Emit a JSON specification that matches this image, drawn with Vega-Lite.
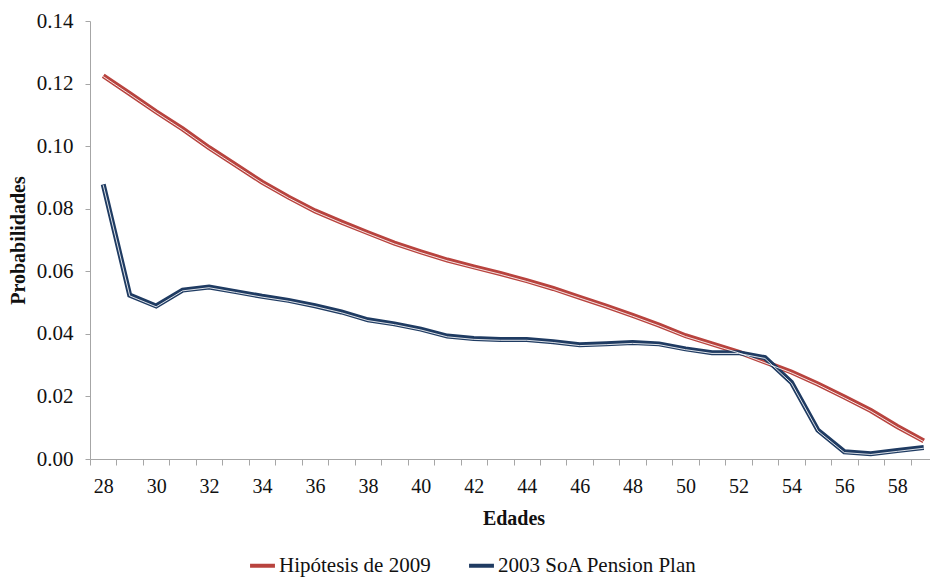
{
  "$schema": "https://vega.github.io/schema/vega-lite/v6.json",
  "autosize": {"type": "none"},
  "width": 847,
  "height": 438,
  "padding": {"left": 90, "top": 21, "right": 0, "bottom": 119},
  "background": "white",
  "config": {
    "view": {"stroke": null},
    "font": "'Liberation Serif', 'Times New Roman', Times, serif",
    "axis": {"labelFont": "'Liberation Serif', 'Times New Roman', Times, serif", "titleFont": "'Liberation Serif', 'Times New Roman', Times, serif", "labelFontSize": 20, "titleFontSize": 20, "labelColor": "#111", "titleColor": "#111", "domainColor": "#a6a6a6", "tickColor": "#a6a6a6", "grid": false},
    "legend": {"labelFont": "'Liberation Serif', 'Times New Roman', Times, serif"}
  },
  "data": {"values": [
    {"edad": 28, "serie": "Hipótesis de 2009", "p": 0.1225},
    {"edad": 29, "serie": "Hipótesis de 2009", "p": 0.1168},
    {"edad": 30, "serie": "Hipótesis de 2009", "p": 0.1110},
    {"edad": 31, "serie": "Hipótesis de 2009", "p": 0.1055},
    {"edad": 32, "serie": "Hipótesis de 2009", "p": 0.0995},
    {"edad": 33, "serie": "Hipótesis de 2009", "p": 0.0940},
    {"edad": 34, "serie": "Hipótesis de 2009", "p": 0.0885},
    {"edad": 35, "serie": "Hipótesis de 2009", "p": 0.0837},
    {"edad": 36, "serie": "Hipótesis de 2009", "p": 0.0793},
    {"edad": 37, "serie": "Hipótesis de 2009", "p": 0.0757},
    {"edad": 38, "serie": "Hipótesis de 2009", "p": 0.0723},
    {"edad": 39, "serie": "Hipótesis de 2009", "p": 0.0690},
    {"edad": 40, "serie": "Hipótesis de 2009", "p": 0.0662},
    {"edad": 41, "serie": "Hipótesis de 2009", "p": 0.0636},
    {"edad": 42, "serie": "Hipótesis de 2009", "p": 0.0614},
    {"edad": 43, "serie": "Hipótesis de 2009", "p": 0.0593},
    {"edad": 44, "serie": "Hipótesis de 2009", "p": 0.0570},
    {"edad": 45, "serie": "Hipótesis de 2009", "p": 0.0545},
    {"edad": 46, "serie": "Hipótesis de 2009", "p": 0.0517},
    {"edad": 47, "serie": "Hipótesis de 2009", "p": 0.0489},
    {"edad": 48, "serie": "Hipótesis de 2009", "p": 0.0459},
    {"edad": 49, "serie": "Hipótesis de 2009", "p": 0.0428},
    {"edad": 50, "serie": "Hipótesis de 2009", "p": 0.0394},
    {"edad": 51, "serie": "Hipótesis de 2009", "p": 0.0368},
    {"edad": 52, "serie": "Hipótesis de 2009", "p": 0.0342},
    {"edad": 53, "serie": "Hipótesis de 2009", "p": 0.0310},
    {"edad": 54, "serie": "Hipótesis de 2009", "p": 0.0278},
    {"edad": 55, "serie": "Hipótesis de 2009", "p": 0.0240},
    {"edad": 56, "serie": "Hipótesis de 2009", "p": 0.0198},
    {"edad": 57, "serie": "Hipótesis de 2009", "p": 0.0155},
    {"edad": 58, "serie": "Hipótesis de 2009", "p": 0.0104},
    {"edad": 59, "serie": "Hipótesis de 2009", "p": 0.0058},
    {"edad": 28, "serie": "2003 SoA Pension Plan", "p": 0.0878},
    {"edad": 29, "serie": "2003 SoA Pension Plan", "p": 0.0524},
    {"edad": 30, "serie": "2003 SoA Pension Plan", "p": 0.0489},
    {"edad": 31, "serie": "2003 SoA Pension Plan", "p": 0.0540},
    {"edad": 32, "serie": "2003 SoA Pension Plan", "p": 0.0550},
    {"edad": 33, "serie": "2003 SoA Pension Plan", "p": 0.0535},
    {"edad": 34, "serie": "2003 SoA Pension Plan", "p": 0.0520},
    {"edad": 35, "serie": "2003 SoA Pension Plan", "p": 0.0507},
    {"edad": 36, "serie": "2003 SoA Pension Plan", "p": 0.0490},
    {"edad": 37, "serie": "2003 SoA Pension Plan", "p": 0.0470},
    {"edad": 38, "serie": "2003 SoA Pension Plan", "p": 0.0445},
    {"edad": 39, "serie": "2003 SoA Pension Plan", "p": 0.0432},
    {"edad": 40, "serie": "2003 SoA Pension Plan", "p": 0.0415},
    {"edad": 41, "serie": "2003 SoA Pension Plan", "p": 0.0393},
    {"edad": 42, "serie": "2003 SoA Pension Plan", "p": 0.0385},
    {"edad": 43, "serie": "2003 SoA Pension Plan", "p": 0.0382},
    {"edad": 44, "serie": "2003 SoA Pension Plan", "p": 0.0382},
    {"edad": 45, "serie": "2003 SoA Pension Plan", "p": 0.0375},
    {"edad": 46, "serie": "2003 SoA Pension Plan", "p": 0.0365},
    {"edad": 47, "serie": "2003 SoA Pension Plan", "p": 0.0368},
    {"edad": 48, "serie": "2003 SoA Pension Plan", "p": 0.0372},
    {"edad": 49, "serie": "2003 SoA Pension Plan", "p": 0.0368},
    {"edad": 50, "serie": "2003 SoA Pension Plan", "p": 0.0352},
    {"edad": 51, "serie": "2003 SoA Pension Plan", "p": 0.0340},
    {"edad": 52, "serie": "2003 SoA Pension Plan", "p": 0.0340},
    {"edad": 53, "serie": "2003 SoA Pension Plan", "p": 0.0324},
    {"edad": 54, "serie": "2003 SoA Pension Plan", "p": 0.0245},
    {"edad": 55, "serie": "2003 SoA Pension Plan", "p": 0.0092},
    {"edad": 56, "serie": "2003 SoA Pension Plan", "p": 0.0023},
    {"edad": 57, "serie": "2003 SoA Pension Plan", "p": 0.0017},
    {"edad": 58, "serie": "2003 SoA Pension Plan", "p": 0.0027},
    {"edad": 59, "serie": "2003 SoA Pension Plan", "p": 0.0037}
  ]},
  "encoding": {
    "x": {
      "field": "edad", "type": "quantitative",
      "scale": {"domain": [27.5, 59.5], "nice": false, "zero": false},
      "axis": {
        "title": "Edades", "titleFontWeight": "bold", "titlePadding": 12,
        "values": [27.5,28,28.5,29.5,30,30.5,31.5,32,32.5,33.5,34,34.5,35.5,36,36.5,37.5,38,38.5,39.5,40,40.5,41.5,42,42.5,43.5,44,44.5,45.5,46,46.5,47.5,48,48.5,49.5,50,50.5,51.5,52,52.5,53.5,54,54.5,55.5,56,56.5,57.5,58,58.5,59.5],
        "labelExpr": "datum.value % 2 == 0 ? datum.value : ''",
        "tickOpacity": {"condition": {"test": "datum.value % 1 != 0", "value": 1}, "value": 0},
        "tickSize": 6, "labelPadding": 11, "labelFlush": false, "labelOverlap": false
      }
    },
    "y": {
      "field": "p", "type": "quantitative",
      "scale": {"domain": [0, 0.14], "nice": false},
      "axis": {"title": "Probabilidades", "titleFontWeight": "bold", "titlePadding": 8, "labelFontSize": 21, "values": [0,0.02,0.04,0.06,0.08,0.1,0.12,0.14], "format": ".2f", "tickSize": 5, "labelPadding": 12}
    }
  },
  "layer": [
    {
      "mark": {"type": "line", "strokeWidth": 5, "strokeJoin": "miter"},
      "encoding": {
        "color": {
          "field": "serie", "type": "nominal",
          "scale": {"domain": ["Hipótesis de 2009", "2003 SoA Pension Plan"], "range": ["#b8433e", "#1f3b62"]},
          "legend": {
            "title": null, "orient": "none", "direction": "horizontal", "legendX": 158, "legendY": 530,
            "symbolType": "stroke", "symbolSize": 620, "symbolStrokeWidth": 4,
            "labelFontSize": 21, "labelColor": "#111", "labelLimit": 400,
            "columnPadding": 30, "labelOffset": 2
          }
        }
      }
    },
    {
      "mark": {"type": "line", "strokeWidth": 1, "color": "white", "strokeOpacity": 0.85, "yOffset": 0.8, "strokeJoin": "miter"},
      "encoding": {"detail": {"field": "serie", "type": "nominal"}}
    }
  ]
}
